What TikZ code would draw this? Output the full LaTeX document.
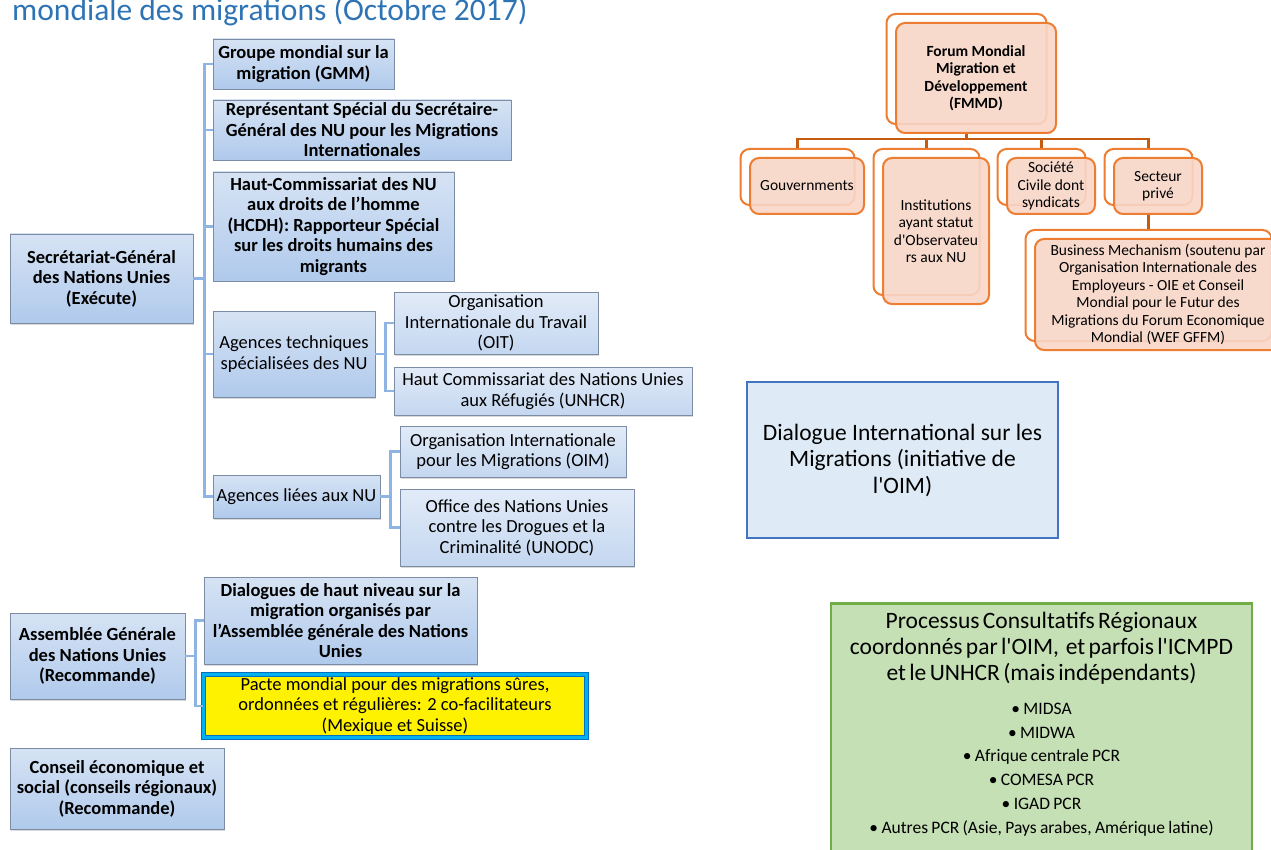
\documentclass[tikz,border=0pt]{standalone}
\usepackage{fontspec}
\setmainfont{Carlito}
\usetikzlibrary{shadows, calc}
\definecolor{untop}{RGB}{214,227,244}
\definecolor{unbot}{RGB}{176,202,236}
\definecolor{subtop}{RGB}{226,235,248}
\definecolor{subbot}{RGB}{196,215,240}
\definecolor{unedge}{RGB}{125,140,165}
\definecolor{unblue}{RGB}{142,180,227}
\definecolor{fmedge}{RGB}{237,125,49}
\definecolor{fmfill}{RGB}{248,214,200}
\definecolor{fmbrown}{RGB}{197,90,17}
\definecolor{dimedge}{RGB}{68,114,196}
\definecolor{dimfill}{RGB}{222,235,247}
\definecolor{pcredge}{RGB}{112,173,71}
\definecolor{pcrfill}{RGB}{197,224,180}
\definecolor{titleblue}{RGB}{46,116,181}
\definecolor{pacteedge}{RGB}{0,112,192}
\definecolor{pactecyan}{RGB}{0,176,240}
\tikzstyle{unbox} = [rectangle, draw=unedge, line width=0.8pt, top color=untop, bottom color=unbot, align=center, inner sep=2pt, font=\fontsize{18.5}{20.5}\selectfont, drop shadow={opacity=0.3, shadow xshift=1pt, shadow yshift=-1.5pt}]
\tikzstyle{unbold} = [unbox, font=\fontsize{18.5}{20.5}\selectfont\bfseries]
\tikzstyle{unsub} = [unbox, top color=subtop, bottom color=subbot]
\tikzstyle{unlink} = [draw=unblue, line width=2.5pt]
\tikzstyle{fmbox} = [rectangle, rounded corners=9pt, draw=fmedge, line width=2pt, fill=fmfill, fill opacity=0.9, text opacity=1, align=center, inner sep=2pt, font=\fontsize{15.5}{17.5}\selectfont, copy shadow={shadow xshift=-9.5pt, shadow yshift=9pt, draw=fmedge, fill=white, fill opacity=1, line width=2pt}]
\tikzstyle{fmlink} = [draw=fmbrown, line width=2.8pt]

\begin{document}
\begin{tikzpicture}[x=1pt, y=-1pt]
	\useasboundingbox (0,0) rectangle (1271,850);
	\node (title) [anchor=base west, inner sep=0pt, text=titleblue, font=\fontsize{31.5}{36}\selectfont] at (12,21) {mondiale des migrations (Octobre 2017)};

	% Secretariat-General of the UN
	\node (sg) [unbold, minimum width=183pt, minimum height=89pt] at (101.5,278.5) {Secrétariat-Général\\des Nations Unies\\(Exécute)};
	\node (gmm) [unbold, minimum width=181pt, minimum height=50pt] at (303.5,64) {Groupe mondial sur la\\migration (GMM)};
	\node (rssg) [unbold, minimum width=298pt, minimum height=60pt] at (362,130) {Représentant Spécial du Secrétaire-\\Général des NU pour les Migrations\\Internationales};
	\node (hcdh) [unbold, minimum width=241pt, minimum height=109pt] at (333.5,226.5) {Haut-Commissariat des NU\\aux droits de l’homme\\(HCDH): Rapporteur Spécial\\sur les droits humains des\\migrants};
	\node (agtech) [unbox, minimum width=162pt, minimum height=86pt] at (294,354) {Agences techniques\\spécialisées des NU};
	\node (oit) [unsub, minimum width=204pt, minimum height=62pt] at (496,323) {Organisation\\Internationale du Travail\\(OIT)};
	\node (unhcr) [unsub, minimum width=298pt, minimum height=48pt] at (543,391) {Haut Commissariat des Nations Unies\\aux Réfugiés (UNHCR)};
	\node (aglie) [unbox, minimum width=167pt, minimum height=43pt] at (296.5,496.5) {Agences liées aux NU};
	\node (oim) [unsub, minimum width=226pt, minimum height=51pt] at (513,451.5) {Organisation Internationale\\pour les Migrations (OIM)};
	\node (unodc) [unsub, minimum width=234pt, minimum height=77pt] at (517,527.5) {Office des Nations Unies\\contre les Drogues et la\\Criminalité (UNODC)};

	% General Assembly and ECOSOC
	\node (ag) [unbold, minimum width=175pt, minimum height=86pt] at (97.5,656) {Assemblée Générale\\des Nations Unies\\(Recommande)};
	\node (dhn) [unbold, minimum width=273pt, minimum height=87pt] at (340.5,620.5) {Dialogues de haut niveau sur la\\migration organisés par\\l’Assemblée générale des Nations\\Unies};
	\node (pacte) [rectangle, draw=pacteedge, double=pactecyan, double distance=3pt, line width=0.8pt, fill=yellow, align=center, minimum width=383.4pt, minimum height=61.4pt, font=\fontsize{18.5}{20.5}\selectfont] at (395,706) {Pacte mondial pour des migrations sûres,\\ordonnées et régulières: 2 co-facilitateurs\\(Mexique et Suisse)};
	\node (ces) [unbold, minimum width=214pt, minimum height=81pt] at (117,788.5) {Conseil économique et\\social (conseils régionaux)\\(Recommande)};

	\foreach \n in {gmm,rssg,hcdh,agtech,aglie}
		\draw [unlink] (sg.east) -- ++(11,0) |- (\n.west);
	\foreach \n in {oit,unhcr}
		\draw [unlink] (agtech.east) -- ++(10,0) |- (\n.west);
	\foreach \n in {oim,unodc}
		\draw [unlink] (aglie.east) -- ++(10,0) |- (\n.west);
	\foreach \n in {dhn,pacte}
		\draw [unlink] (ag.east) -- ++(10,0) |- (\n.west);

	% FMMD
	\node (fmmd) [fmbox, minimum width=160pt, minimum height=110pt, font=\fontsize{15.5}{17.5}\selectfont\bfseries] at (976,78) {Forum Mondial\\Migration et\\Développement\\(FMMD)};
	\node (gouv) [fmbox, minimum width=114pt, minimum height=56pt] at (807,186) {Gouvernments};
	\node (inst) [fmbox, minimum width=106pt, minimum height=146pt] at (936,231) {Institutions\\ayant statut\\d\textquotesingle Observateu\\rs aux NU};
	\node (soc) [fmbox, minimum width=88pt, minimum height=56pt] at (1051,186) {Société\\Civile dont\\syndicats};
	\node (sect) [fmbox, minimum width=88pt, minimum height=56pt] at (1158,186) {Secteur\\privé};
	\node (bm) [fmbox, minimum width=246pt, minimum height=111pt] at (1158,294.5) {Business Mechanism (soutenu par\\Organisation Internationale des\\Employeurs - OIE et Conseil\\Mondial pour le Futur des\\Migrations du Forum Economique\\Mondial (WEF GFFM)};

	\coordinate (fmhub) at ($(fmmd.south)+(-9.5,5)$);
	\draw [fmlink] ($(fmmd.south)+(-9.5,0)$) -- (fmhub);
	\foreach \n in {gouv,inst,soc,sect}
		\draw [fmlink] (fmhub) -| ($(\n.north)+(-9.5,-9)$);
	\draw [fmlink] ($(sect.south)+(-9.5,0)$) -- ($(bm.north)+(-9.5,-9)$);

	% IOM dialogue and regional processes
	\node (dim) [rectangle, draw=dimedge, line width=2.5pt, fill=dimfill, align=center, minimum width=311pt, minimum height=156pt, font=\fontsize{23.5}{26.5}\selectfont] at (902.5,460) {Dialogue International sur les\\Migrations (initiative de\\l\textquotesingle OIM)};
	\node (pcr) [rectangle, draw=pcredge, line width=2.5pt, fill=pcrfill, anchor=north, text width=409pt, align=center, inner xsep=6pt, inner ysep=9pt] at (1041.5,602) {%
		{\fontsize{23.5}{26}\selectfont Processus Consultatifs Régionaux\\coordonnés par l\textquotesingle OIM,\ \ et parfois l\textquotesingle ICMPD\\et le UNHCR (mais indépendants)\par}
		\vspace{10pt}
		{\fontsize{17.5}{23.8}\selectfont • MIDSA\\• MIDWA\\• Afrique centrale PCR\\• COMESA PCR\\• IGAD PCR\\• Autres PCR (Asie, Pays arabes, Amérique latine)\par}
		\leavevmode\rule{0pt}{30pt}};
\end{tikzpicture}
\end{document}
